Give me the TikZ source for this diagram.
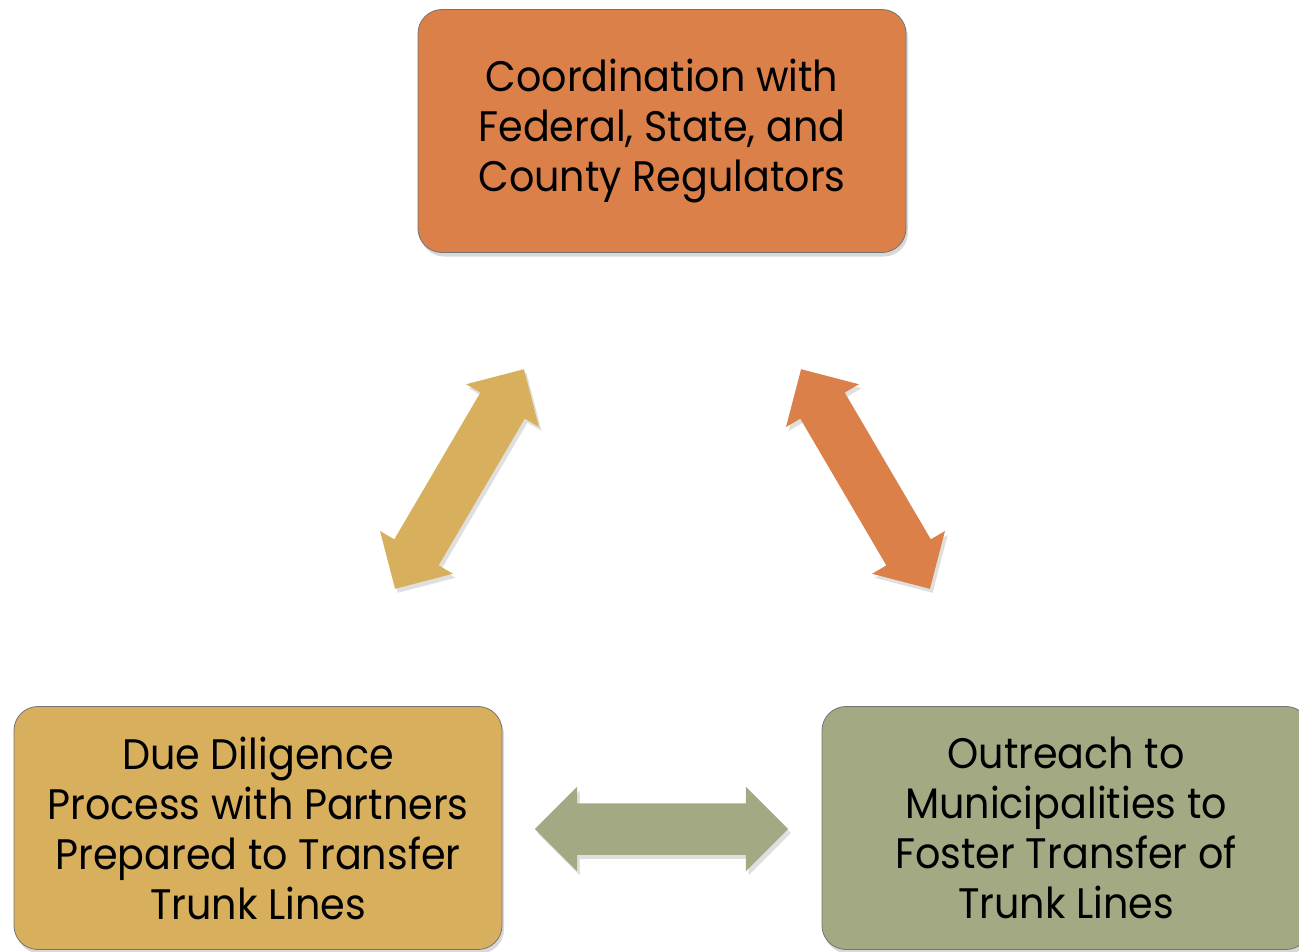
\documentclass[tikz,border=0pt]{standalone}
\usepackage{fontspec}
\setmainfont{Poppins}[FakeStretch=0.93]
\usetikzlibrary{shapes.arrows,shadows}

\definecolor{boxorange}{RGB}{220,128,73}
\definecolor{boxgold}{RGB}{216,176,93}
\definecolor{boxgreen}{RGB}{163,169,130}

\tikzset{
  taskbox/.style={rounded corners=18pt, draw=black!55, line width=0.6pt,
    minimum width=366pt, minimum height=182.25pt, align=center, inner sep=0pt,
    font=\fontsize{32}{37.5}\selectfont, text=black,
    drop shadow={shadow xshift=1.5pt, shadow yshift=-3pt, opacity=0.3}},
  linkarrow/.style={double arrow, double arrow head extend=12.4pt,
    minimum width=63pt, minimum height=191pt, inner xsep=0pt, inner ysep=19.1pt,
    draw=none,
    drop shadow={shadow xshift=2pt, shadow yshift=-3pt, opacity=0.25}}
}

\begin{document}
\begin{tikzpicture}[x=0.75pt,y=0.75pt,yscale=-1,xscale=1]
\useasboundingbox (0,0) rectangle (1299,951);

%Boxes
\node [taskbox, fill=boxorange] (regulators) at (662,131) {Coordination with\\Federal, State, and\\County Regulators};
\node [taskbox, fill=boxgold] (diligence) at (258,828) {Due Diligence\\Process with Partners\\Prepared to Transfer\\Trunk Lines};
\node [taskbox, fill=boxgreen] (outreach) at (1066,828) {Outreach to\\Municipalities to\\Foster Transfer of\\Trunk Lines};

%Double arrows
\node [linkarrow, fill=boxgold, rotate=59.6] (leftlink) at (459.5,479) {};
\node [linkarrow, fill=boxorange, rotate=-59.6] (rightlink) at (865.5,479) {};
\node [linkarrow, fill=boxgreen, minimum height=190pt] (bottomlink) at (661.5,829) {};

\end{tikzpicture}
\end{document}
